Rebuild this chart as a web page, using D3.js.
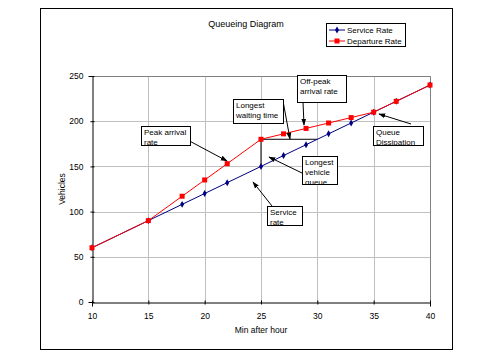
<!DOCTYPE html>
<html><head><meta charset="utf-8">
<script src="https://cdn.jsdelivr.net/npm/d3@7"></script>
<style>
body{margin:0;background:#fff;}
text{font-family:"Liberation Sans",Arial,sans-serif;fill:#000;}
</style></head>
<body>
<svg id="c" width="487" height="359"></svg>
<script>
const title = "Queueing Diagram";
const xLabel = "Min after hour";
const yLabel = "Vehicles";
const xTicks = [10,15,20,25,30,35,40];
const yTicks = [0,50,100,150,200,250];
const serviceMin = [10,15,18,20,22,25,27,29,31,33,35,37,40];
const serviceVal = [60,90,108,120,132,150,162,174,186,198,210,222,240];
const departMin = [10,15,18,20,22,25,27,29,31,33,35,37,40];
const departVal = [60,90,117,135,153,180,186,192,198,204,210,222,240];
const seriesNames = ["Service Rate","Departure Rate"];
const notes = [
  {lines:["Peak arrival","rate"]},
  {lines:["Longest","waiting time"]},
  {lines:["Off-peak","arrival rate"]},
  {lines:["Longest","vehicle","queue"]},
  {lines:["Service","rate"]},
  {lines:["Queue","Dissipation"]}
];

const svg = d3.select("#c");
const L=92,R=430,T=76,B=302;
const x = d3.scaleLinear().domain([10,40]).range([L,R]);
const y = d3.scaleLinear().domain([0,250]).range([B,T]);

svg.append("defs").append("marker").attr("id","ah").attr("viewBox","0 0 10 10")
  .attr("refX",9).attr("refY",5).attr("markerWidth",7).attr("markerHeight",7)
  .attr("orient","auto").append("path").attr("d","M0,1.5L10,5L0,8.5Z").attr("fill","#000");

// outer frame
svg.append("rect").attr("x",40.5).attr("y",8.5).attr("width",412).attr("height",341)
  .attr("fill","none").attr("stroke","#000");

// grid
const g = svg.append("g");
g.selectAll(".gy").data(yTicks.filter(d=>d>0)).join("line")
  .attr("x1",L).attr("x2",R).attr("y1",d=>Math.round(y(d))+0.5).attr("y2",d=>Math.round(y(d))+0.5)
  .attr("stroke","#c0c0c0");
g.selectAll(".gx").data(xTicks.filter(d=>d>10)).join("line")
  .attr("y1",T).attr("y2",B).attr("x1",d=>Math.round(x(d))+0.5).attr("x2",d=>Math.round(x(d))+0.5)
  .attr("stroke","#c0c0c0");
svg.append("path").attr("d",`M${L},${T+0.5}H${R+0.5}V${B}`).attr("fill","none").attr("stroke","#808080");

// axes
const xa = svg.append("g").attr("transform",`translate(0,${B+0.5})`)
  .call(d3.axisBottom(x).tickValues(xTicks).tickSize(4).tickPadding(6));
const ya = svg.append("g").attr("transform",`translate(${L+0.5},0)`)
  .call(d3.axisLeft(y).tickValues(yTicks).tickSize(4).tickPadding(5));
[xa,ya].forEach(a=>{a.select(".domain").attr("stroke","#000");a.selectAll("line").attr("stroke","#000");
  a.selectAll("text").style("font-family","Liberation Sans, Arial").style("font-size","8.5px");});
xa.selectAll(".tick line").attr("transform","translate(0,-2)");
ya.selectAll(".tick line").attr("transform","translate(2,0)");

svg.append("text").attr("x",261).attr("y",333).attr("text-anchor","middle").attr("font-size","8.5px").text(xLabel);
svg.append("text").attr("transform","translate(65,189) rotate(-90)").attr("text-anchor","middle").attr("font-size","8.5px").text(yLabel);
svg.append("text").attr("x",246).attr("y",27).attr("text-anchor","middle").attr("font-size","9px").text(title);

// queue lines
svg.append("line").attr("x1",x(25)).attr("x2",x(25)).attr("y1",y(150)).attr("y2",y(180)).attr("stroke","#000");
svg.append("line").attr("x1",x(25)).attr("x2",x(30)).attr("y1",y(180)).attr("y2",y(180)).attr("stroke","#000");

// series
const line = d3.line().x(d=>x(d[0])).y(d=>y(d[1]));
const sData = serviceMin.map((m,i)=>[m,serviceVal[i]]);
const dData = departMin.map((m,i)=>[m,departVal[i]]);
svg.append("path").datum(sData).attr("d",line).attr("fill","none").attr("stroke","#000080").attr("stroke-width",1);
svg.selectAll(".sm").data(sData).join("path")
  .attr("d",d3.symbol(d3.symbolDiamond,14)).attr("transform",d=>`translate(${x(d[0])},${y(d[1])})`).attr("fill","#000080");
svg.append("path").datum(dData).attr("d",line).attr("fill","none").attr("stroke","#ff0000").attr("stroke-width",1);
svg.selectAll(".dm").data(dData).join("rect")
  .attr("x",d=>x(d[0])-2.5).attr("y",d=>y(d[1])-2.5).attr("width",5).attr("height",5).attr("fill","#ff0000");

// legend
const lg = svg.append("g");
lg.append("rect").attr("x",326.5).attr("y",23.5).attr("width",79).attr("height",23).attr("fill","#fff").attr("stroke","#000");
[0,1].forEach(i=>{
  const yy = 30+i*11;
  lg.append("line").attr("x1",329).attr("x2",345).attr("y1",yy).attr("y2",yy).attr("stroke",i?"#ff0000":"#000080");
  if(i) lg.append("rect").attr("x",334.5).attr("y",yy-2.5).attr("width",5).attr("height",5).attr("fill","#ff0000");
  else lg.append("path").attr("d",d3.symbol(d3.symbolDiamond,14)).attr("transform",`translate(337,${yy})`).attr("fill","#000080");
  lg.append("text").attr("x",347).attr("y",yy+3).attr("font-size","8px").text(seriesNames[i]);
});

// callouts
const boxes = [
  {x:141,y:126,w:49,h:19, a:[182,137,227,161]},
  {x:233,y:99,w:50,h:24, a:[283,101,290,139]},
  {x:297,y:75,w:49,h:27, a:[303,102,304,125]},
  {x:302,y:156,w:35,h:28, a:[302,173,269,157]},
  {x:267,y:206,w:35,h:19, a:[272,206,253,182]},
  {x:373,y:126,w:50,h:19, a:[411,124,379,114]}
];
boxes.forEach((b,i)=>{
  svg.append("line").attr("x1",b.a[0]).attr("y1",b.a[1]).attr("x2",b.a[2]).attr("y2",b.a[3])
    .attr("stroke","#000").attr("marker-end","url(#ah)");
  svg.append("rect").attr("x",b.x+0.5).attr("y",b.y+0.5).attr("width",b.w).attr("height",b.h)
    .attr("fill","#fff").attr("stroke","#000");
  const cp = "cp"+i;
  svg.append("clipPath").attr("id",cp).append("rect").attr("x",b.x).attr("y",b.y).attr("width",b.w).attr("height",b.h);
  const t = svg.append("text").attr("clip-path",`url(#${cp})`).attr("font-size","8px");
  notes[i].lines.forEach((s,j)=>t.append("tspan").attr("x",b.x+3).attr("y",b.y+9+j*10).text(s));
});
</script>
</body></html>
